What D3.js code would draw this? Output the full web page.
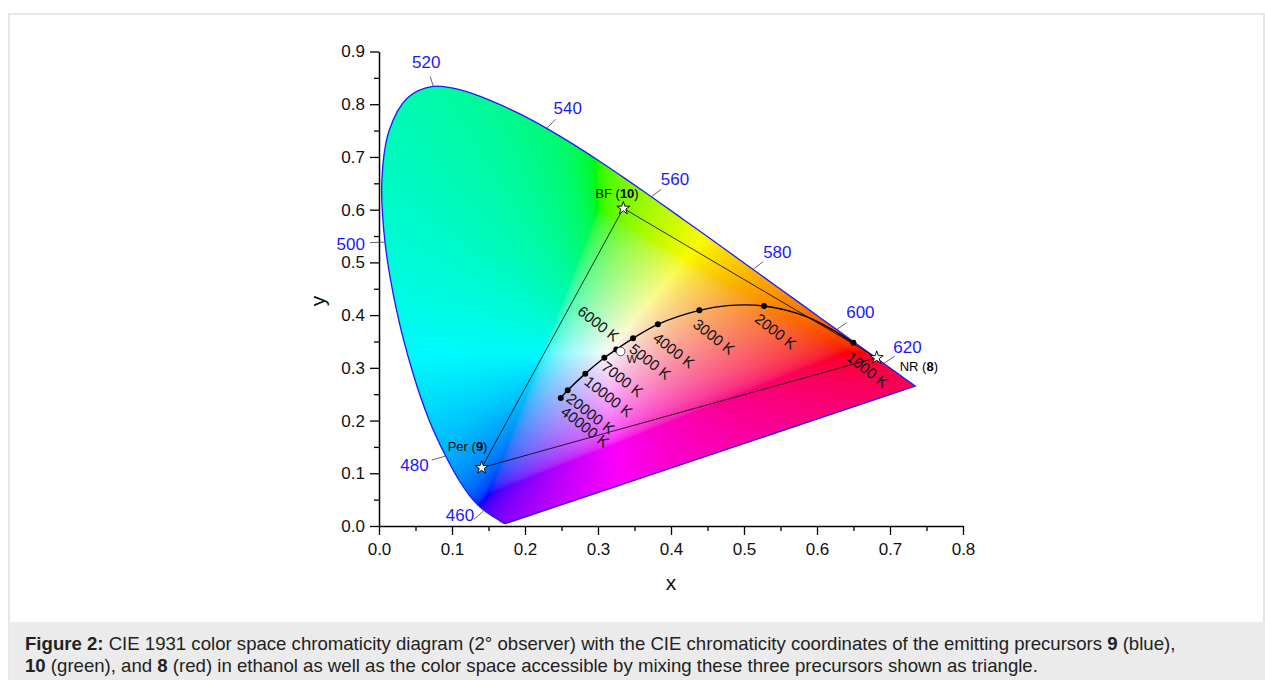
<!DOCTYPE html>
<html><head><meta charset="utf-8">
<script src="https://cdn.jsdelivr.net/npm/d3@7"></script>
<style>
body{margin:0;background:#fff;}
svg{display:block;font-family:"Liberation Sans",Arial,sans-serif;}
</style></head><body>
<svg id="chart" width="1265" height="680"></svg>
<script>
// ---------------- DATA ----------------
const wavelengths = [380,385,390,395,400,405,410,415,420,425,430,435,440,445,450,455,460,465,470,475,480,485,490,495,500,505,510,515,520,525,530,535,540,545,550,555,560,565,570,575,580,585,590,595,600,605,610,615,620,625,630,635,640,645,650,655,660,665,670,675,680,685,690,695,700];
const locusX = [0.1741,0.1740,0.1738,0.1736,0.1733,0.1730,0.1726,0.1721,0.1714,0.1703,0.1689,0.1669,0.1644,0.1611,0.1566,0.1510,0.1440,0.1355,0.1241,0.1096,0.0913,0.0687,0.0454,0.0235,0.0082,0.0039,0.0139,0.0389,0.0743,0.1142,0.1547,0.1929,0.2296,0.2658,0.3016,0.3373,0.3731,0.4087,0.4441,0.4788,0.5125,0.5448,0.5752,0.6029,0.6270,0.6482,0.6658,0.6801,0.6915,0.7006,0.7079,0.7140,0.7190,0.7230,0.7260,0.7283,0.7300,0.7311,0.7320,0.7327,0.7334,0.7340,0.7344,0.7346,0.7347];
const locusY = [0.0050,0.0050,0.0049,0.0049,0.0048,0.0048,0.0048,0.0048,0.0051,0.0058,0.0069,0.0086,0.0109,0.0138,0.0177,0.0227,0.0297,0.0399,0.0578,0.0868,0.1327,0.2007,0.2950,0.4127,0.5384,0.6548,0.7502,0.8120,0.8338,0.8262,0.8059,0.7816,0.7543,0.7243,0.6923,0.6589,0.6245,0.5896,0.5547,0.5202,0.4866,0.4544,0.4242,0.3965,0.3725,0.3514,0.3340,0.3197,0.3083,0.2993,0.2920,0.2859,0.2809,0.2770,0.2740,0.2717,0.2700,0.2689,0.2680,0.2673,0.2666,0.2660,0.2656,0.2654,0.2653];
const labelledWavelengths = [460,480,500,520,540,560,580,600,620];

// Planckian locus (line) and labelled temperatures (dots)
const planckX = [0.6498,0.5857,0.5274,0.4770,0.4388,0.3820,0.3480,0.3250,0.3087,0.2826,0.2585,0.2490];
const planckY = [0.3477,0.3970,0.4173,0.4180,0.4090,0.3826,0.3560,0.3350,0.3190,0.2890,0.2574,0.2430];
const cctLabels = ["1000 K","2000 K","3000 K","4000 K","5000 K","6000 K","7000 K","10000 K","20000 K","40000 K"];
const cctX = [0.6498,0.5274,0.4388,0.3820,0.3480,0.3250,0.3087,0.2826,0.2585,0.2490];
const cctY = [0.3477,0.4173,0.4090,0.3826,0.3560,0.3350,0.3190,0.2890,0.2574,0.2430];

// White point
const whiteX = 0.331, whiteY = 0.331;

// Emitters
const emitterNames = ["Per","BF","NR"];
const emitterIds = ["9","10","8"];
const emitterX = [0.1407,0.3347,0.6818];
const emitterY = [0.1106,0.6026,0.3192];

// Axis ticks
const xTicks = [0,0.1,0.2,0.3,0.4,0.5,0.6,0.7,0.8];
const xMinorTicks = [0.05,0.15,0.25,0.35,0.45,0.55,0.65,0.75];
const yTicks = [0,0.1,0.2,0.3,0.4,0.5,0.6,0.7,0.8,0.9];
const yMinorTicks = [0.05,0.15,0.25,0.35,0.45,0.55,0.65,0.75,0.85];

// ---------------- LAYOUT ----------------
const svg = d3.select("#chart");
const x = d3.scaleLinear().domain([0,0.8]).range([379,963]);
const y = d3.scaleLinear().domain([0,0.9]).range([526,51.5]);

// frame + caption band
svg.append("rect").attr("x",9).attr("y",14).attr("width",1255).attr("height",680).attr("fill","#fff").attr("stroke","#e4e4e4").attr("stroke-width",1.8);
svg.append("rect").attr("x",9).attr("y",622).attr("width",1256).attr("height",58).attr("fill","#ebebeb");

// ---------- chromaticity fill ----------
const locusPts = wavelengths.map((w,i)=>[locusX[i],locusY[i]]);
const lineXY = d3.line().x(d=>x(d[0])).y(d=>y(d[1]));
const smoothXY = d3.line().x(d=>x(d[0])).y(d=>y(d[1])).curve(d3.curveCatmullRom.alpha(0.5));
const locusPath = smoothXY(locusPts) + "Z";

const defs = svg.append("defs");
defs.append("clipPath").attr("id","locusClip").append("path").attr("d",locusPath);

const x0 = Math.floor(x(0)), x1 = Math.ceil(x(0.75));
const y0 = Math.floor(y(0.85)), y1 = Math.ceil(y(0));
const cw = x1-x0, ch = y1-y0;
const canvas = document.createElement("canvas");
canvas.width = cw; canvas.height = ch;
const ctx = canvas.getContext("2d");
const img = ctx.createImageData(cw,ch);
function gam(c){ return c<=0.0031308 ? 12.92*c : 1.055*Math.pow(c,1/2.4)-0.055; }
for(let j=0;j<ch;j++){
  const cy = y.invert(y0+j+0.5);
  for(let i=0;i<cw;i++){
    const cx = x.invert(x0+i+0.5);
    const k = (j*cw+i)*4;
    if(cy<=0.0005){ img.data[k+3]=0; continue; }
    const X = cx/cy, Y = 1, Z = (1-cx-cy)/cy;
    let r = 3.2406*X-1.5372*Y-0.4986*Z;
    let g = -0.9689*X+1.8758*Y+0.0415*Z;
    let b = 0.0557*X-0.2040*Y+1.0570*Z;
    const mn = Math.min(r,g,b);
    if(mn<0){ r-=mn; g-=mn; b-=mn; }
    const m = Math.max(r,g,b) || 1;
    img.data[k]   = Math.round(250*gam(r/m));
    img.data[k+1] = Math.round(250*gam(g/m));
    img.data[k+2] = Math.round(252*gam(b/m));
    img.data[k+3] = 255;
  }
}
ctx.putImageData(img,0,0);
svg.append("image").attr("x",x0).attr("y",y0).attr("width",cw).attr("height",ch)
  .attr("href",canvas.toDataURL()).attr("clip-path","url(#locusClip)");

svg.append("path").attr("d",locusPath).attr("fill","none").attr("stroke","#1a1aff").attr("stroke-width",1.3);

// ---------- wavelength labels ----------
const wlLayout = {
  460:{lx:-10,ly:9, tx:-10,ty:11,anchor:"end"},
  480:{lx:-14,ly:4, tx:-17,ty:15,anchor:"end"},
  500:{lx:-15,ly:0.5,tx:-20,ty:8,anchor:"end"},
  520:{lx:-3,ly:-10,tx:-7,ty:-18,anchor:"middle"},
  540:{lx:9,ly:-9,tx:7,ty:-14,anchor:"start"},
  560:{lx:10,ly:-7.5,tx:9.5,ty:-11.5,anchor:"start"},
  580:{lx:10,ly:-8,tx:10,ty:-11.5,anchor:"start"},
  600:{lx:10,ly:-7,tx:9.5,ty:-11.5,anchor:"start"},
  620:{lx:11,ly:-7.5,tx:9.5,ty:-10.5,anchor:"start"}
};
const wlG = svg.append("g");
labelledWavelengths.forEach(w=>{
  const i = wavelengths.indexOf(w);
  const px = x(locusX[i]), py = y(locusY[i]);
  const L = wlLayout[w];
  wlG.append("line").attr("x1",px).attr("y1",py).attr("x2",px+L.lx).attr("y2",py+L.ly)
    .attr("stroke","#555").attr("stroke-width",0.9);
  wlG.append("text").attr("x",px+L.tx).attr("y",py+L.ty).attr("text-anchor",L.anchor)
    .attr("fill","#1a1aff").style("font-size","17px").text(w);
});

// ---------- triangle ----------
const triPts = emitterX.map((v,i)=>[v,emitterY[i]]);
svg.append("path").attr("d",lineXY(triPts)+"Z").attr("fill","none").attr("stroke","#000").attr("stroke-width",0.8);

// ---------- Planckian locus ----------
svg.append("path").attr("d", smoothXY(planckX.map((v,i)=>[v,planckY[i]])))
  .attr("fill","none").attr("stroke","#000").attr("stroke-width",1.4);
svg.append("g").selectAll("circle").data(cctX.map((v,i)=>[v,cctY[i]])).join("circle")
  .attr("cx",d=>x(d[0])).attr("cy",d=>y(d[1])).attr("r",3).attr("fill","#000");

const cctLayout = {
  "1000 K":{dx:4,dy:18,a:"start"},
  "2000 K":{dx:1,dy:18,a:"start"},
  "3000 K":{dx:4,dy:17,a:"start"},
  "4000 K":{dx:5,dy:16,a:"start"},
  "5000 K":{dx:4,dy:13,a:"start"},
  "6000 K":{dx:-6,dy:-4,a:"end"},
  "7000 K":{dx:3.5,dy:11,a:"start"},
  "10000 K":{dx:4.5,dy:9,a:"start"},
  "20000 K":{dx:4.4,dy:9.5,a:"start"},
  "40000 K":{dx:9,dy:13,a:"start"}
};
const cctG = svg.append("g");
cctLabels.forEach((lab,i)=>{
  const L = cctLayout[lab];
  cctG.append("text")
    .attr("transform",`translate(${x(cctX[i])},${y(cctY[i])}) rotate(38)`)
    .attr("x",L.dx).attr("y",L.dy).attr("text-anchor",L.a)
    .style("font-size","15px").attr("fill","#111").text(lab);
});

// ---------- white point ----------
svg.append("circle").attr("cx",x(whiteX)).attr("cy",y(whiteY)).attr("r",4.3)
  .attr("fill","#fff").attr("stroke","#333").attr("stroke-width",0.8);
svg.append("text").attr("x",x(whiteX)+6).attr("y",y(whiteY)+12).style("font-size","11px").attr("fill","#111").text("W");

// ---------- emitters ----------
const star = d3.symbol().type(d3.symbolStar).size(52);
svg.append("g").selectAll("path").data(triPts).join("path")
  .attr("d",star).attr("transform",d=>`translate(${x(d[0])},${y(d[1])})`)
  .attr("fill","#fff").attr("stroke","#000").attr("stroke-width",0.9);

const emLayout = [
  {dx:-34,dy:-17,a:"start"},
  {dx:-28,dy:-10,a:"start"},
  {dx:23,dy:13,a:"start"}
];
emitterNames.forEach((n,i)=>{
  const L = emLayout[i];
  const t = svg.append("text").attr("x",x(emitterX[i])+L.dx).attr("y",y(emitterY[i])+L.dy)
    .attr("text-anchor",L.a).style("font-size","13px").attr("fill","#000");
  t.append("tspan").text(n+" (");
  t.append("tspan").attr("font-weight","bold").text(emitterIds[i]);
  t.append("tspan").text(")");
});

// ---------- axes ----------
svg.append("g").attr("transform","translate(0,526)")
  .call(d3.axisBottom(x).tickValues(xTicks).tickFormat(d3.format(".1f")).tickSize(9).tickSizeOuter(0).tickPadding(8));
svg.append("g").attr("transform","translate(0,526)")
  .call(d3.axisBottom(x).tickValues(xMinorTicks).tickFormat("").tickSize(5).tickSizeOuter(0))
  .select(".domain").remove();
svg.append("g").attr("transform","translate(379,0)")
  .call(d3.axisLeft(y).tickValues(yTicks).tickFormat(d3.format(".1f")).tickSize(9).tickSizeOuter(0).tickPadding(5));
svg.append("g").attr("transform","translate(379,0)")
  .call(d3.axisLeft(y).tickValues(yMinorTicks).tickFormat("").tickSize(5).tickSizeOuter(0))
  .select(".domain").remove();
svg.selectAll(".tick line").attr("stroke","#000").attr("stroke-width",1.3);
svg.selectAll(".domain").attr("stroke","#000").attr("stroke-width",1.5);
svg.selectAll(".tick text").style("font-size","17px").style("font-family","'Liberation Sans',Arial,sans-serif").attr("fill","#111");

svg.append("text").attr("x",671).attr("y",590).attr("text-anchor","middle").style("font-size","21px").attr("fill","#111").text("x");
svg.append("text").attr("transform","translate(325,301) rotate(-90)").attr("text-anchor","middle").style("font-size","21px").attr("fill","#111").text("y");

// ---------- caption ----------
const cap1 = svg.append("text").attr("x",25).attr("y",650).style("font-size","18.6px").attr("fill","#222");
cap1.append("tspan").attr("font-weight","bold").text("Figure 2:");
cap1.append("tspan").text(" CIE 1931 color space chromaticity diagram (2° observer) with the CIE chromaticity coordinates of the emitting precursors ");
cap1.append("tspan").attr("font-weight","bold").text("9");
cap1.append("tspan").text(" (blue),");
const cap2 = svg.append("text").attr("x",25).attr("y",672).style("font-size","18.6px").attr("fill","#222");
cap2.append("tspan").attr("font-weight","bold").text("10");
cap2.append("tspan").text(" (green), and ");
cap2.append("tspan").attr("font-weight","bold").text("8");
cap2.append("tspan").text(" (red) in ethanol as well as the color space accessible by mixing these three precursors shown as triangle.");
</script>
</body></html>
